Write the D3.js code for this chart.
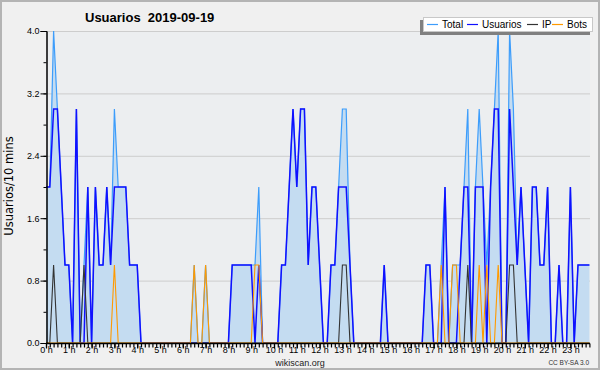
<!DOCTYPE html>
<html>
<head>
<meta charset="utf-8">
<script src="https://cdn.jsdelivr.net/npm/d3@7"></script>
<style>
  body { margin: 0; background: #f0f0f0; }
  svg { display: block; }
</style>
</head>
<body>
<div id="chart"></div>
<script>
// values per 10 minutes, one row per hour
var total = [
  2,2,4,3,2,1,  1,0,3,0,1,2,  0,2,1,1,2,1,  3,2,2,2,1,1,
  1,0,0,0,0,0,  0,0,0,0,0,0,  0,0,0,1,0,0,  1,0,0,0,0,0,
  0,1,1,1,1,1,  1,1,2,0,0,0,  0,0,1,1,2,3,  2,3,3,1,2,2,
  1,0,0,1,1,2,  3,3,1,0,0,0,  0,0,0,0,0,1,  0,0,0,0,0,0,
  0,0,0,0,1,1,  0,0,1,2,0,1,  1,1,2,3,0,2,  3,2,1,2,3,4,
  0,0,4,3,1,2,  1,0,2,2,1,1,  2,0,0,1,0,0,  2,0,1,1,1,1
];
var usuarios = [
  2,2,3,3,2,1,  1,0,3,0,0,2,  0,2,1,1,2,1,  2,2,2,2,1,1,
  1,0,0,0,0,0,  0,0,0,0,0,0,  0,0,0,0,0,0,  0,0,0,0,0,0,
  0,1,1,1,1,1,  1,0,1,0,0,0,  0,0,1,1,2,3,  2,3,3,1,2,2,
  1,0,0,1,1,2,  2,2,1,0,0,0,  0,0,0,0,0,1,  0,0,0,0,0,0,
  0,0,0,0,1,1,  0,0,0,2,0,0,  0,1,2,2,0,2,  2,2,0,2,3,3,
  0,0,3,2,1,2,  1,0,2,2,1,1,  2,0,0,1,0,0,  2,0,1,1,1,1
];
var ip = [
  0,0,1,0,0,0,  0,0,0,0,1,0,  0,0,0,0,0,0,  0,0,0,0,0,0,
  0,0,0,0,0,0,  0,0,0,0,0,0,  0,0,0,0,0,0,  0,0,0,0,0,0,
  0,0,0,0,0,0,  0,0,0,0,0,0,  0,0,0,0,0,0,  0,0,0,0,0,0,
  0,0,0,0,0,0,  1,1,0,0,0,0,  0,0,0,0,0,0,  0,0,0,0,0,0,
  0,0,0,0,0,0,  0,0,0,0,0,0,  0,0,0,1,0,0,  0,0,0,0,0,0,
  0,0,1,1,0,0,  0,0,0,0,0,0,  0,0,0,0,0,0,  0,0,0,0,0,0
];
var bots = [
  0,0,0,0,0,0,  0,0,0,0,0,0,  0,0,0,0,0,0,  1,0,0,0,0,0,
  0,0,0,0,0,0,  0,0,0,0,0,0,  0,0,0,1,0,0,  1,0,0,0,0,0,
  0,0,0,0,0,0,  0,1,1,0,0,0,  0,0,0,0,0,0,  0,0,0,0,0,0,
  0,0,0,0,0,0,  0,0,0,0,0,0,  0,0,0,0,0,0,  0,0,0,0,0,0,
  0,0,0,0,0,0,  0,0,1,0,0,1,  1,0,0,0,0,0,  1,0,1,0,0,1,
  0,0,0,0,0,0,  0,0,0,0,0,0,  0,0,0,0,0,0,  0,0,0,0,0,0
];
var hourLabels = d3.range(24).map(h => h + ' h');
var yTicks = [0, 0.8, 1.6, 2.4, 3.2, 4.0];
var legendItems = ['Total', 'Usuarios', 'IP', 'Bots'];
var legendColors = ['#3d9dfb', '#1010ff', '#333333', '#ff9a00'];

var width = 600, height = 370;

var svg = d3.select('#chart').append('svg')
  .attr('width', width)
  .attr('height', height);

// background + border
svg.append('rect')
  .attr('x', 1).attr('y', 1)
  .attr('width', width - 2).attr('height', height - 2)
  .attr('fill', '#f0f0f0')
  .attr('stroke', '#b4b4b4')
  .attr('stroke-width', 2);

var x = d3.scaleLinear().domain([0, 143]).range([46, 589.4]);
var y = d3.scaleLinear().domain([0, 4]).range([343, 31]);

// plot background
svg.append('rect')
  .attr('x', 46).attr('y', 31)
  .attr('width', 544).attr('height', 312)
  .attr('fill', '#eceef0');

// grid
svg.append('g').selectAll('line')
  .data(yTicks.slice(1))
  .enter().append('line')
  .attr('x1', 46).attr('x2', 590)
  .attr('y1', d => y(d) + 0.5).attr('y2', d => y(d) + 0.5)
  .attr('stroke', '#cdcdcd');

// area under total
var area = d3.area()
  .x((d, i) => x(i))
  .y0(y(0))
  .y1(d => y(d));

svg.append('path')
  .datum(total)
  .attr('d', area)
  .attr('fill', '#c4dcf1');

var line = d3.line()
  .x((d, i) => x(i))
  .y(d => y(d));

var series = [total, usuarios, ip, bots];
var widths = [1.2, 1.5, 1.1, 1.1];
series.forEach(function(s, k) {
  svg.append('path')
    .datum(s)
    .attr('d', line)
    .attr('fill', 'none')
    .attr('stroke', legendColors[k])
    .attr('stroke-width', widths[k])
    .attr('stroke-linejoin', 'miter');
});

// y axis
var yAxis = d3.axisLeft(y)
  .tickValues(d3.range(0, 4.01, 0.4))
  .tickSize(3)
  .tickFormat('');
var yg = svg.append('g')
  .attr('transform', 'translate(46.5,0)')
  .call(yAxis);
var yAxisMajor = d3.axisLeft(y)
  .tickValues(yTicks)
  .tickSize(6)
  .tickPadding(1)
  .tickFormat(d3.format('.1f'));
var ygm = svg.append('g')
  .attr('transform', 'translate(46.5,0)')
  .call(yAxisMajor);
[yg, ygm].forEach(function(g) {
  g.select('.domain').attr('stroke', '#000');
  g.selectAll('line').attr('stroke', '#000');
  g.selectAll('text')
    .attr('font-family', 'Liberation Sans, Arial, sans-serif')
    .attr('font-size', 9)
    .attr('fill', '#000');
});

// x axis
var xAxisMinor = d3.axisBottom(x)
  .tickValues(d3.range(0, 144, 1))
  .tickSize(4)
  .tickSizeOuter(0)
  .tickFormat('');
var xg = svg.append('g')
  .attr('transform', 'translate(0,343.5)')
  .call(xAxisMinor);
xg.select('.domain').attr('d', 'M46,0H590');
var xAxisMajor = d3.axisBottom(x)
  .tickValues(d3.range(0, 144, 6))
  .tickSize(5)
  .tickSizeOuter(0)
  .tickFormat((d, i) => hourLabels[i]);
var xgm = svg.append('g')
  .attr('transform', 'translate(0,343.5)')
  .call(xAxisMajor);
xgm.select('.domain').remove();
[xg, xgm].forEach(function(g) {
  g.selectAll('line').attr('stroke', '#000').attr('stroke-width', 1.2);
  g.select('.domain').attr('stroke', '#000').attr('stroke-width', 1.5);
  g.selectAll('text')
    .attr('y', 3)
    .attr('font-family', 'Liberation Sans, Arial, sans-serif')
    .attr('font-size', 9)
    .attr('fill', '#000');
});

// title
svg.append('text')
  .attr('x', 85).attr('y', 22)
  .attr('font-family', 'Liberation Sans, Arial, sans-serif')
  .attr('font-weight', 'bold')
  .attr('font-size', 13)
  .attr('xml:space', 'preserve')
  .text('Usuarios  2019-09-19');

// y label
svg.append('text')
  .attr('transform', 'translate(13,186) rotate(-90)')
  .attr('text-anchor', 'middle')
  .attr('font-family', 'DejaVu Sans, sans-serif')
  .attr('font-size', 11.5)
  .text('Usuarios/10 mins');

// footer
svg.append('text')
  .attr('x', 300).attr('y', 366)
  .attr('text-anchor', 'middle')
  .attr('font-family', 'Liberation Sans, Arial, sans-serif')
  .attr('font-size', 9)
  .attr('fill', '#222')
  .text('wikiscan.org');
svg.append('text')
  .attr('x', 589).attr('y', 365)
  .attr('text-anchor', 'end')
  .attr('font-family', 'Liberation Sans, Arial, sans-serif')
  .attr('font-size', 6.5)
  .attr('fill', '#333')
  .text('CC BY-SA 3.0');

// legend
svg.append('rect')
  .attr('x', 420).attr('y', 20)
  .attr('width', 170).attr('height', 15)
  .attr('fill', '#808080');
svg.append('rect')
  .attr('x', 423.5).attr('y', 17.5)
  .attr('width', 169).attr('height', 14)
  .attr('fill', '#fff')
  .attr('stroke', '#c8c8c8');
var legendX = [427, 467, 527, 552];
var lg = svg.append('g');
legendItems.forEach(function(name, k) {
  lg.append('line')
    .attr('x1', legendX[k]).attr('x2', legendX[k] + 11)
    .attr('y1', 24.5).attr('y2', 24.5)
    .attr('stroke', legendColors[k])
    .attr('stroke-width', 1.2);
  lg.append('text')
    .attr('x', legendX[k] + 15).attr('y', 28)
    .attr('font-family', 'Liberation Sans, Arial, sans-serif')
    .attr('font-size', 10)
    .text(name);
});
</script>
</body>
</html>
